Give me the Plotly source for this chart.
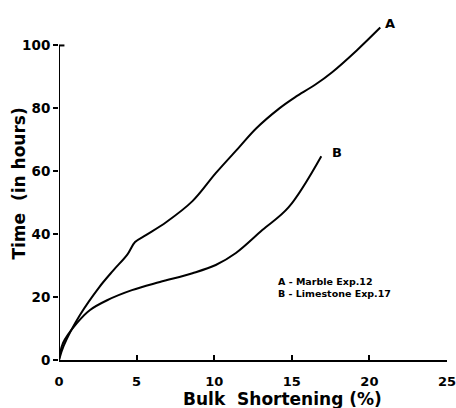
import plotly.graph_objects as go

# Curve A - Marble Exp.12
a_x = [0, 0.3, 1.35, 2.6, 3.5, 4.4, 4.9, 5.6, 6.9, 8.6, 10.1, 11.6, 12.7, 14.2, 15.2, 16.5, 17.6, 19.2, 20.7]
a_y = [0, 4.5, 14.3, 23.2, 28.5, 33.5, 37.5, 39.7, 43.8, 50.5, 59.4, 67.6, 73.6, 80, 83.5, 87.5, 91.5, 98.5, 105.7]
# Curve B - Limestone Exp.17
b_x = [0, 0.26, 1.15, 2.0, 3.1, 4.7, 6.5, 8.6, 10.1, 11.4, 13.1, 14.8, 16.9]
b_y = [0, 5.4, 11.7, 15.9, 19.0, 22.2, 24.8, 27.6, 30.2, 34.0, 41.3, 48.6, 64.8]

x_ticks = [0, 5, 10, 15, 20, 25]
y_ticks = [0, 20, 40, 60, 80, 100]
x_title = "Bulk\u00a0 Shortening (%)"
y_title = "Time\u00a0 (in hours)"

FONT = "DejaVu Sans"

fig = go.Figure()
fig.add_trace(go.Scatter(x=a_x, y=a_y, mode="lines", line=dict(color="black", width=2, shape="spline"),
                         showlegend=False, hoverinfo="skip"))
fig.add_trace(go.Scatter(x=b_x, y=b_y, mode="lines", line=dict(color="black", width=2, shape="spline"),
                         showlegend=False, hoverinfo="skip"))

fig.add_annotation(x=a_x[-1], y=a_y[-1], text="A", showarrow=False, xanchor="center", yanchor="middle",
                   xshift=10, yshift=4, font=dict(family=FONT, size=13, color="black", weight=700))
fig.add_annotation(x=b_x[-1], y=b_y[-1], text="B", showarrow=False, xanchor="center", yanchor="middle",
                   xshift=16, yshift=4, font=dict(family=FONT, size=13, color="black", weight=700))
fig.add_annotation(x=14.0, y=23.0, xref="x", yref="y", xanchor="left", yanchor="middle",
                   text="A - Marble Exp.12<br>B - Limestone Exp.17", showarrow=False, align="left",
                   font=dict(family=FONT, size=9.5, color="black", weight=700))

# axis titles placed as annotations (positioned like the original)
fig.add_annotation(x=0.575, y=-0.112, xref="paper", yref="paper", xanchor="center", yanchor="middle",
                   text=x_title, showarrow=False,
                   font=dict(family=FONT, size=17, color="black", weight=700))
fig.add_annotation(x=-0.103, y=0.51, xref="paper", yref="paper", xanchor="center", yanchor="middle",
                   text=y_title, showarrow=False, textangle=-90,
                   font=dict(family=FONT, size=17, color="black", weight=700))

# y-axis spine only up to 100, with the top tick pointing right
fig.add_shape(type="line", xref="x", yref="y", x0=0, x1=0, y0=0, y1=100,
              line=dict(color="black", width=2))
fig.add_shape(type="line", xref="x", yref="y", x0=0, x1=0.35, y0=100, y1=100,
              line=dict(color="black", width=2))

fig.update_layout(
    width=456, height=408,
    margin=dict(l=59, r=9, t=14, b=48, autoexpand=False),
    paper_bgcolor="white", plot_bgcolor="white",
    font=dict(family=FONT, size=13, color="black", weight=700),
    xaxis=dict(range=[0, 25], tickvals=x_ticks, ticks="inside", ticklen=5,
               tickwidth=1.5, tickcolor="black", showline=True, linecolor="black", linewidth=2,
               showgrid=False, zeroline=False, ticklabelstandoff=8, ticklabeloverflow="allow",
               automargin=False, tickfont=dict(family=FONT, size=13, weight=700)),
    yaxis=dict(range=[0, 110], tickvals=y_ticks, ticks="outside", ticklen=5, tickwidth=1.5,
               tickcolor="black", showline=False, showgrid=False,
               zeroline=False, ticklabelstandoff=0, automargin=False,
               tickfont=dict(family=FONT, size=13.5, weight=700)),
)

fig.write_html("out.html", config={"displayModeBar": False},
               post_script="document.body.style.margin='0';")
